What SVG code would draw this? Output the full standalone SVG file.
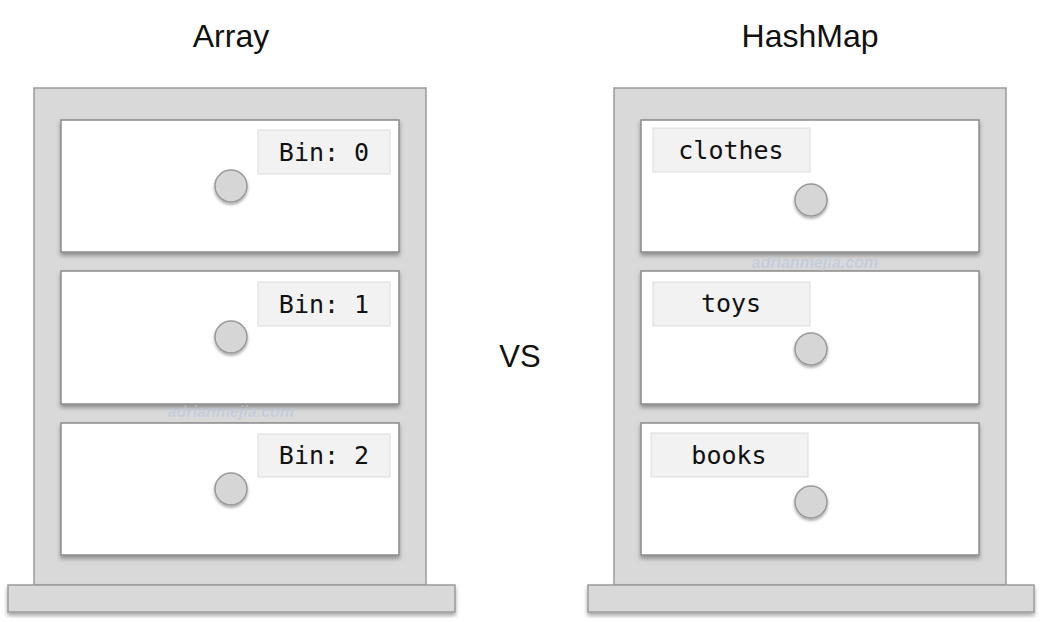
<svg xmlns="http://www.w3.org/2000/svg" width="1042" height="622" viewBox="0 0 1042 622">
<defs>
<filter id="sh" x="-10%" y="-10%" width="120%" height="130%"><feDropShadow dx="0" dy="3" stdDeviation="2" flood-color="#000" flood-opacity="0.35"/></filter>
<filter id="ksh" x="-30%" y="-30%" width="160%" height="170%"><feDropShadow dx="0" dy="2" stdDeviation="1.5" flood-color="#000" flood-opacity="0.35"/></filter>
</defs>
<style>
.frame{fill:#d9d9d9;stroke:#9a9a9a;stroke-width:1.5}
.base{fill:#d9d9d9;stroke:#9a9a9a;stroke-width:1.5}
.drawer{fill:#fff;stroke:#8a8a8a;stroke-width:1.5}
.knob{fill:#d6d6d6;stroke:#999;stroke-width:1.5}
.lbl{fill:#f2f2f2;stroke:#dcdcdc;stroke-width:1}
.mono{font-family:"DejaVu Sans Mono",monospace;font-size:25px;fill:#111;text-anchor:middle}
.title{font-family:"Liberation Sans",Arial,sans-serif;font-size:32px;fill:#111;text-anchor:middle}
.wm{font-family:"Liberation Sans",sans-serif;font-style:italic;font-weight:bold;font-size:16px;fill:#b8c6dc;opacity:0.6;text-anchor:middle}
</style>
<rect width="1042" height="622" fill="#fff"/>
<text class="title" x="231" y="47">Array</text>
<text class="title" x="810" y="47">HashMap</text>
<text class="title" x="520" y="367" style="font-size:31px">VS</text>
<g id="array">
<rect class="frame" x="34" y="88" width="392" height="497"/>
<rect class="base" x="8" y="585" width="447" height="27" filter="url(#sh)"/>
<g id="bin0"><rect class="drawer" x="61" y="120" width="338" height="132" filter="url(#sh)"/><rect class="lbl" x="258" y="130" width="132" height="44"/><text class="mono" x="324" y="161">Bin: 0</text><circle class="knob" cx="231" cy="186" r="16" filter="url(#ksh)"/></g>
<g id="bin1"><rect class="drawer" x="61" y="271" width="338" height="133" filter="url(#sh)"/><rect class="lbl" x="258" y="282" width="132" height="44"/><text class="mono" x="324" y="313">Bin: 1</text><circle class="knob" cx="231" cy="337" r="16" filter="url(#ksh)"/></g>
<g id="bin2"><rect class="drawer" x="61" y="423" width="338" height="132" filter="url(#sh)"/><rect class="lbl" x="258" y="434" width="132" height="43"/><text class="mono" x="324" y="464">Bin: 2</text><circle class="knob" cx="231" cy="489" r="16" filter="url(#ksh)"/></g>
<text class="wm" x="231" y="417">adrianmejia.com</text>
</g>
<g id="hashmap">
<rect class="frame" x="614" y="88" width="392" height="497"/>
<rect class="base" x="588" y="585" width="446" height="27" filter="url(#sh)"/>
<g id="clothes"><rect class="drawer" x="641" y="120" width="338" height="132" filter="url(#sh)"/><rect class="lbl" x="653" y="128" width="157" height="44"/><text class="mono" x="731" y="159">clothes</text><circle class="knob" cx="811" cy="200" r="16" filter="url(#ksh)"/></g>
<g id="toys"><rect class="drawer" x="641" y="271" width="338" height="133" filter="url(#sh)"/><rect class="lbl" x="653" y="282" width="157" height="44"/><text class="mono" x="731" y="312">toys</text><circle class="knob" cx="811" cy="349" r="16" filter="url(#ksh)"/></g>
<g id="books"><rect class="drawer" x="641" y="423" width="338" height="132" filter="url(#sh)"/><rect class="lbl" x="651" y="433" width="157" height="44"/><text class="mono" x="729" y="464">books</text><circle class="knob" cx="811" cy="502" r="16" filter="url(#ksh)"/></g>
<text class="wm" x="815" y="268">adrianmejia.com</text>
</g>
</svg>
